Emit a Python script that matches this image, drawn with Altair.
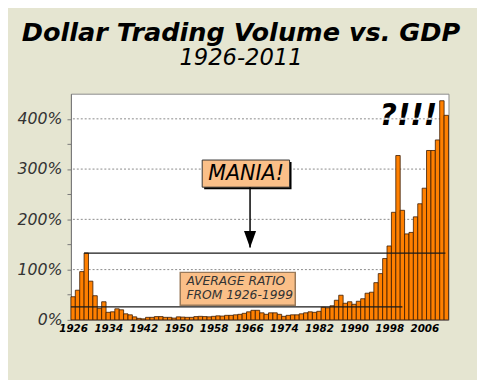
import altair as alt
import pandas as pd

# ---- data ----
years = list(range(1926, 2012))
ratio = [
    0.46, 0.59, 0.96, 1.33, 0.77, 0.48, 0.23, 0.36, 0.15, 0.16,   # 1926-1935
    0.22, 0.20, 0.12, 0.10, 0.06, 0.03, 0.02, 0.05, 0.05, 0.065,  # 1936-1945
    0.065, 0.05, 0.05, 0.035, 0.06, 0.055, 0.05, 0.05, 0.065, 0.07,  # 1946-1955
    0.065, 0.06, 0.07, 0.08, 0.075, 0.09, 0.09, 0.10, 0.11, 0.13,  # 1956-1965
    0.16, 0.19, 0.19, 0.14, 0.11, 0.14, 0.14, 0.11, 0.07, 0.09,   # 1966-1975
    0.10, 0.10, 0.12, 0.14, 0.16, 0.15, 0.17, 0.25, 0.24, 0.28,   # 1976-1985
    0.39, 0.49, 0.33, 0.36, 0.31, 0.37, 0.42, 0.53, 0.55, 0.74,   # 1986-1995
    0.92, 1.22, 1.47, 2.14, 3.27, 2.18, 1.71, 1.74, 2.05, 2.31,   # 1996-2005
    2.62, 3.37, 3.37, 3.58, 4.36, 4.07,                           # 2006-2011
]
assert len(years) == len(ratio)

x_label_years = [1926, 1934, 1942, 1950, 1958, 1966, 1974, 1982, 1990, 1998, 2006]
y_ticks = [0, 0.5, 1, 1.5, 2, 2.5, 3, 3.5, 4]
grid_vals = [1, 2, 3, 4]

# reference lines: peak-level line and average-ratio line
line_start = [1929, 1926]
line_end = [2011.3, 2001.5]
line_level = [1.33, 0.26]

# annotations
mania_box = dict(x=1955.9, x2=1975.8, y=3.18, y2=2.64)
mania_text = dict(x=1965.9, y=2.91, text="MANIA!")
arrow = dict(x=1966.8, y=2.64, y2=1.44, head=1.6)
avg_box = dict(x=1950.9, x2=1977.1, y=0.945, y2=0.29)
avg_lines = ["AVERAGE RATIO", "FROM 1926-1999"]
avg_y = [0.775, 0.50]
avg_x = 1952.3
shout = dict(x=2002.9, y=4.06, text="?!!!")

FONT = "DejaVu Sans"
BG = "#E5E5D1"
ORANGE = "#FF8000"
LIGHT = "#FABF88"

df = pd.DataFrame({"year": years, "ratio": ratio})
df["end"] = df["year"] + 1

xscale = alt.Scale(domain=[1926, 2012], nice=False, zero=False)
yscale = alt.Scale(domain=[0, 4.5], nice=False)

xaxis = alt.Axis(
    values=[y + 0.5 for y in x_label_years],
    labelExpr="'' + floor(datum.value)",
    labelFont=FONT, labelFontSize=10.5, labelFontWeight="bold", labelFontStyle="italic",
    labelColor="black", ticks=False, labelPadding=4, grid=False, domain=False,
    title=None, labelFlush=False, labelOverlap=False, labelBound=False,
)
yaxis = alt.Axis(
    values=y_ticks,
    labelExpr="datum.value % 1 == 0 ? format(datum.value, '.0%') : ''",
    labelFont=FONT, labelFontSize=16, labelFontStyle="italic", labelColor="#333333",
    tickSize=4, tickColor="#777777", labelPadding=5, grid=False,
    domainColor="#777777", title=None, labelOverlap=False,
)

X = lambda f: alt.X(f, scale=xscale, axis=xaxis)
Y = lambda f: alt.Y(f, scale=yscale, axis=yaxis)

grid = alt.Chart(pd.DataFrame({"g": grid_vals})).mark_rule(
    color="#8a8a8a", strokeDash=[2, 2], strokeWidth=1
).encode(y=Y("g:Q"))

bars = alt.Chart(df).mark_rect(
    color=ORANGE, stroke="#3a1a00", strokeWidth=0.8
).encode(
    x=X("year:Q"),
    x2="end:Q",
    y=Y("ratio:Q"),
    y2=alt.datum(0),
)

lines = alt.Chart(pd.DataFrame({"s": line_start, "e": line_end, "v": line_level})).mark_rule(
    color="#1a1a1a", strokeWidth=1.3
).encode(x=X("s:Q"), x2="e:Q", y=Y("v:Q"))

mb = pd.DataFrame([mania_box])
mania_shadow = alt.Chart(mb).mark_rect(
    color="black", xOffset=2, x2Offset=2, yOffset=2, y2Offset=2
).encode(x=X("x:Q"), x2="x2:Q", y=Y("y:Q"), y2="y2:Q")
mania_rect = alt.Chart(mb).mark_rect(
    fill=LIGHT, stroke="#333333", strokeWidth=1
).encode(x=X("x:Q"), x2="x2:Q", y=Y("y:Q"), y2="y2:Q")
mania_lbl = alt.Chart(pd.DataFrame([mania_text])).mark_text(
    font=FONT, fontSize=21, fontStyle="italic", color="black", baseline="middle", align="center"
).encode(x=X("x:Q"), y=Y("y:Q"), text="text:N")

ad = pd.DataFrame([arrow])
arrow_line = alt.Chart(ad).mark_rule(color="black", strokeWidth=1.5).encode(
    x=X("x:Q"), y=Y("y:Q"), y2="y2:Q"
)
arrow_head = alt.Chart(ad).mark_point(
    shape="M-0.72,-1 L0.72,-1 L0,1 Z", filled=True, color="black", opacity=1, size=290
).encode(x=X("x:Q"), y=Y("head:Q"))

ab = pd.DataFrame([avg_box])
avg_rect = alt.Chart(ab).mark_rect(
    fill=LIGHT, stroke="#9a7a5a", strokeWidth=1.5
).encode(x=X("x:Q"), x2="x2:Q", y=Y("y:Q"), y2="y2:Q")
avg_lbl = alt.Chart(pd.DataFrame({"t": avg_lines, "y": avg_y, "x": [avg_x] * 2})).mark_text(
    font=FONT, fontSize=12.5, fontStyle="italic", color="#333333", align="left", baseline="middle"
).encode(x=X("x:Q"), y=Y("y:Q"), text="t:N")

shout_lbl = alt.Chart(pd.DataFrame([shout])).mark_text(
    font=FONT, fontSize=30, fontStyle="italic", fontWeight="bold", color="black",
    align="center", baseline="middle"
).encode(x=X("x:Q"), y=Y("y:Q"), text="text:N")

chart = alt.layer(
    grid, bars, lines, avg_rect, avg_lbl, mania_shadow, mania_rect, mania_lbl,
    arrow_line, arrow_head, shout_lbl,
).properties(
    width=384,
    height=230,
    autosize=alt.AutoSizeParams(type="none"),
    padding={"left": 64, "top": 84, "right": 29, "bottom": 58},
    background=BG,
    title=alt.TitleParams(
        text="Dollar Trading Volume vs. GDP",
        subtitle="1926-2011",
        font=FONT, fontSize=26, fontStyle="italic", fontWeight="bold", color="black",
        subtitleFont=FONT, subtitleFontSize=23, subtitleFontStyle="italic",
        subtitleFontWeight="normal", subtitleColor="black", subtitlePadding=2,
        anchor="middle", dx=-19, offset=24,
    ),
).configure_view(
    stroke="#8a8a8a", strokeWidth=1, fill="white"
).configure_axisX(labelOverlap=False)

chart.save("out.html", embed_options={"renderer": "svg", "actions": False})
